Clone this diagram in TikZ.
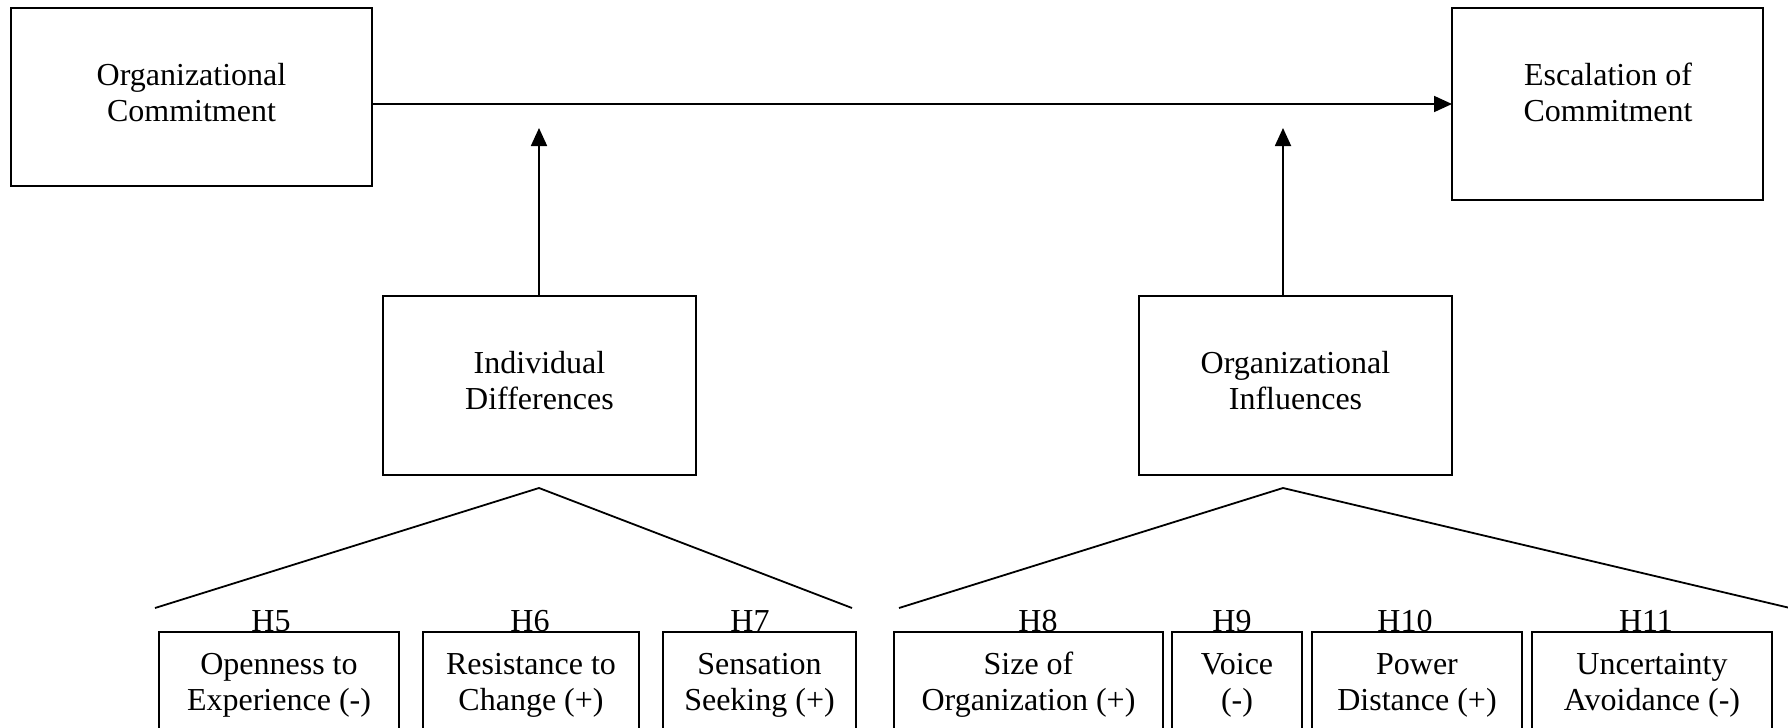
\documentclass[tikz,border=0pt]{standalone}
\usepackage{fontspec}
\setmainfont{Liberation Serif}
\usetikzlibrary{arrows.meta}
\newcommand{\tl}[2]{\begin{tabular}[t]{@{}c@{}}#1\\#2\end{tabular}}
\begin{document}
\begin{tikzpicture}[x=0.5pt,y=-0.5pt,
  box/.style={draw,line width=0.9pt,rectangle,inner sep=0pt,outer sep=0pt},
  txt/.style={anchor=base,inner sep=0pt,font=\fontsize{16}{18}\selectfont},
  conn/.style={line width=0.9pt},
  arr/.style={conn,-{Triangle[width=8pt,length=9pt]}}]
\useasboundingbox (0,0) rectangle (1788,728);
\clip (0,0) rectangle (1788,728);
% top boxes
\node[box,minimum width=180.5pt,minimum height=89pt] (oc) at (191.5,97) {};
\node[box,minimum width=155.5pt,minimum height=96pt] (ec) at (1607.5,104) {};
\node[box,minimum width=156.5pt,minimum height=89.5pt] (id) at (539.5,385.5) {};
\node[box,minimum width=156.5pt,minimum height=89.5pt] (oi) at (1295.5,385.5) {};
\node[txt] (oc-t) at (191.5,85) {\tl{Organizational}{Commitment}};
\node[txt] (ec-t) at (1608,85) {\tl{Escalation of}{Commitment}};
\node[txt] (id-t) at (539.5,373) {\tl{Individual}{Differences}};
\node[txt] (oi-t) at (1295.5,373) {\tl{Organizational}{Influences}};
% bottom boxes
\node[box,minimum width=120pt,minimum height=64pt] (ope) at (279,696) {};
\node[box,minimum width=108pt,minimum height=64pt] (res) at (531,696) {};
\node[box,minimum width=96.5pt,minimum height=64pt] (sen) at (759.5,696) {};
\node[box,minimum width=134.5pt,minimum height=64pt] (siz) at (1028.5,696) {};
\node[box,minimum width=65pt,minimum height=64pt] (voi) at (1237,696) {};
\node[box,minimum width=105pt,minimum height=64pt] (pow) at (1417,696) {};
\node[box,minimum width=120pt,minimum height=64pt] (unc) at (1652,696) {};
\node[txt] (ope-t) at (279,674) {\tl{Openness to}{Experience (-)}};
\node[txt] (res-t) at (531,674) {\tl{Resistance to}{Change (+)}};
\node[txt] (sen-t) at (759.5,674) {\tl{Sensation}{Seeking (+)}};
\node[txt] (siz-t) at (1028.5,674) {\tl{Size of}{Organization (+)}};
\node[txt] (voi-t) at (1237,674) {\tl{Voice}{(-)}};
\node[txt] (pow-t) at (1417,674) {\tl{Power}{Distance (+)}};
\node[txt] (unc-t) at (1652,674) {\tl{Uncertainty}{Avoidance (-)}};
% hypothesis labels
\node[txt] (h5) at (271,631) {H5};
\node[txt] (h6) at (530,631) {H6};
\node[txt] (h7) at (750,631) {H7};
\node[txt] (h8) at (1038,631) {H8};
\node[txt] (h9) at (1232,631) {H9};
\node[txt] (h10) at (1405,631) {H10};
\node[txt] (h11) at (1646,631) {H11};
% connectors
\coordinate (m) at (0,104);
\draw[arr] (oc.east |- m) -- (ec.west |- m);
\coordinate (tipL) at (539,128);
\coordinate (tipR) at (1283,128);
\draw[arr] (id.north -| tipL) -- (tipL);
\draw[arr] (oi.north -| tipR) -- (tipR);
% wedges
\coordinate (apL) at (539,488);
\coordinate (lL) at (155,608);
\coordinate (rL) at (852,608);
\coordinate (apR) at (1283,488);
\coordinate (lR) at (899,608);
\coordinate (rR) at (1790,608);
\draw[conn] (lL) -- (apL) -- (rL);
\draw[conn] (lR) -- (apR) -- (rR);
\end{tikzpicture}
\end{document}
